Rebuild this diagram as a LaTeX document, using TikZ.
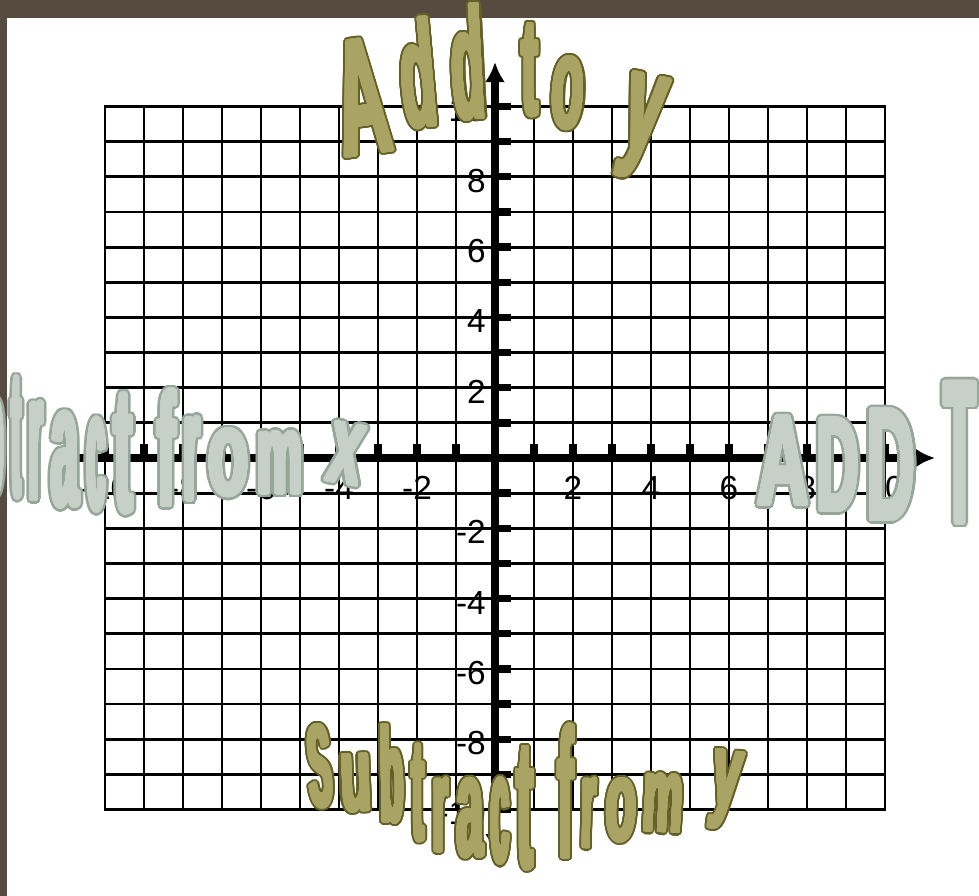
\documentclass[tikz,border=0pt]{standalone}
\usepackage{fontspec}
\setmainfont{Liberation Sans}
\usepackage{contour}
\usetikzlibrary{arrows.meta}

\definecolor{framebrown}{HTML}{564B3E}
\definecolor{olivefill}{HTML}{A9A364}
\definecolor{oliveline}{HTML}{646128}
\definecolor{sagefill}{HTML}{C6D0C8}
\definecolor{sageline}{HTML}{96A699}

\newdimen\pxu \pxu=0.75pt
\contournumber{32}
% one stretched WordArt letter: width, height, glyph (thickened, then outlined)
\newcommand{\artglyph}[3]{\resizebox*{#1\pxu}{#2\pxu}{\bfseries #3}}
\newcommand{\oliveletter}[3]{%
    \rlap{\contourlength{2.8pt}\textcolor{oliveline}{\contour{oliveline}{\artglyph{#1}{#2}{#3}}}}%
    \textcolor{olivefill}{\contourlength{1.2pt}\contour{olivefill}{\artglyph{#1}{#2}{#3}}}}
\newcommand{\sageletter}[3]{%
    \rlap{\contourlength{3.4pt}\textcolor{sageline}{\contour{sageline}{\artglyph{#1}{#2}{#3}}}}%
    \textcolor{sagefill}{\contourlength{1.4pt}\contour{sagefill}{\artglyph{#1}{#2}{#3}}}}

\begin{document}
\begin{tikzpicture}[x=0.75pt, y=-0.75pt,
    gridline/.style={line width=2.1pt, line cap=rect},
    axis/.style={line width=6pt, arrows={Latex[length=15pt,width=15pt]-Latex[length=15pt,width=15pt]}},
    tickmark/.style={line width=5.5pt},
    ticklabel/.style={inner sep=0pt, font=\fontsize{25}{28}\selectfont},
    letter/.style={inner sep=0pt}]
    \useasboundingbox (0,0) rectangle (979,896);
    \clip (0,0) rectangle (979,896);
    \fill[white] (0,0) rectangle (979,896);

    % frame
    \fill[framebrown] (0,0) rectangle (979,18);
    \fill[framebrown] (0,0) rectangle (7,896);

    % grid
    \foreach \k in {-10,...,10} {
        \draw[gridline] (495+39*\k,106.5) -- (495+39*\k,809.5);
        \draw[gridline] (105,458+35.15*\k) -- (885,458+35.15*\k);
    }

    % axes
    \coordinate (xmin) at (55,458);
    \coordinate (xmax) at (935,458);
    \coordinate (ymax) at (495,62);
    \coordinate (ymin) at (495,854);
    \draw[axis] (xmin) -- (xmax);
    \draw[axis] (ymin) -- (ymax);
    \foreach \k in {-10,...,10} {
        \draw[tickmark] (495,458-35.15*\k) -- (511,458-35.15*\k);
        \draw[tickmark] (495+39*\k,458) -- (495+39*\k,444);
    }

    % tick labels
    \foreach \k [count=\n] in {-10,-8,-6,-4,-2,2,4,6,8,10} {
        \node[ticklabel] (xl\n) at (495+39*\k,488) {\k};
        \node[ticklabel, anchor=east] (yl\n) at (486,462-35.15*\k) {\k};
    }

    % Add to y
    \foreach \ch/\cx/\cy/\w/\h/\r [count=\i] in {A/362/99/51/114/8, d/418/75/35/109/5,
        d/468/64/33/115/3, t/530/72/16/92/0, o/568/95/32/72/-3, y/641/129/39/104/-12}
        \node[letter, rotate=\r] (up\i) at (\cx,\cy) {\oliveletter{\w}{\h}{\ch}};

    % Subtract from y
    \foreach \ch/\cx/\cy/\w/\h/\r [count=\i] in {S/320/768/22.5/82.5/4, u/356/785/30.5/56.5/2,
        b/392/776/23.5/97.5/1, t/418/795/12.5/96.5/0, r/441/817/15.5/72.5/0, a/470/820/26.5/78.5/0,
        c/500/823/18.5/85.5/0, t/525/810/16.5/122.5/0, f/566/793/15.5/132.5/0, r/589/815/14.5/68.5/-1,
        o/621/812/30.5/62.5/-2, m/663/805/39.5/56.5/-3, y/725/792/28.5/77.5/-8}
        \node[letter, rotate=\r] (down\i) at (\cx,\cy) {\oliveletter{\w}{\h}{\ch}};

    % Subtract from x
    \foreach \ch/\cx/\cy/\w/\h/\r [count=\i] in {S/-82/437/29/141/0, u/-45/450/23/96/0,
        b/-7/433/21/129/0, t/16.5/440/8/121/0, r/36/453/13/98/0, a/65/462/27/95/0,
        c/96.5/467/18/93/0, t/123.5/456/18/119/0, f/166.5/450/18/116/0, r/192/461/15/83/0,
        o/228.5/465/40/66/0, m/280/465/45/61/0, x/346/456/33/58/-10}
        \node[letter, rotate=\r] (left\i) at (\cx,\cy) {\sageletter{\w}{\h}{\ch}};

    % ADD To x
    \foreach \ch/\cx/\cy/\w/\h/\r [count=\i] in {A/783/463/51/88/0, D/838/467/41/92/0,
        D/891/467/48/110/0, T/960/455/31/141/0, o/1010/470/46/96/0, x/1065/470/46/96/0}
        \node[letter, rotate=\r] (right\i) at (\cx,\cy) {\sageletter{\w}{\h}{\ch}};
\end{tikzpicture}
\end{document}
